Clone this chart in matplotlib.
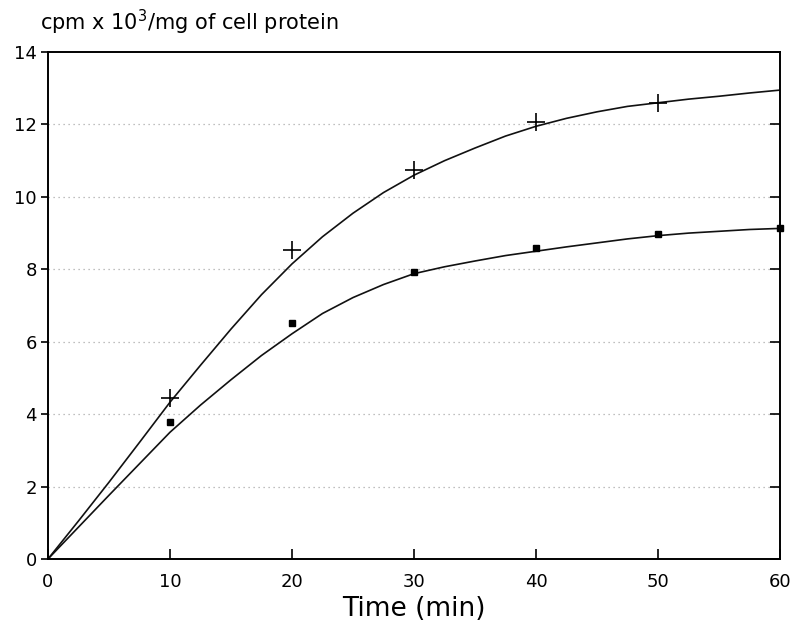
import matplotlib
matplotlib.use("Agg")
import matplotlib.pyplot as plt

# fitted curves
curve_x = [0, 2.5, 5, 7.5, 10, 12.5, 15, 17.5, 20, 22.5, 25, 27.5, 30,
           32.5, 35, 37.5, 40, 42.5, 45, 47.5, 50, 52.5, 55, 57.5, 60]
curve_plus = [0, 1.05, 2.12, 3.22, 4.33, 5.35, 6.35, 7.3, 8.15, 8.9, 9.55, 10.12, 10.6,
              11.0, 11.35, 11.68, 11.95, 12.17, 12.35, 12.5, 12.6, 12.7, 12.78, 12.87, 12.95]
curve_square = [0, 0.88, 1.76, 2.63, 3.5, 4.25, 4.95, 5.62, 6.22, 6.78, 7.22, 7.58, 7.88,
                8.07, 8.23, 8.38, 8.5, 8.62, 8.73, 8.84, 8.93, 9.0, 9.05, 9.1, 9.13]

# measured points
plus_x = [10, 20, 30, 40, 50]
plus_y = [4.45, 8.53, 10.74, 12.08, 12.6]
square_x = [10, 20, 30, 40, 50, 60]
square_y = [3.78, 6.53, 7.93, 8.58, 8.97, 9.15]

x_ticks = [0, 10, 20, 30, 40, 50, 60]
y_ticks = [0, 2, 4, 6, 8, 10, 12, 14]
grid_levels = [2, 4, 6, 8, 10, 12]

fig = plt.figure(figsize=(7.97, 6.35), dpi=100)
ax = fig.add_axes([0.0602, 0.1197, 0.9185, 0.7983])

for g in grid_levels:
    ax.axhline(g, color='#aaaaaa', lw=0.9, ls=(0, (1, 3)), zorder=0)

ax.plot(curve_x, curve_plus, color='#111111', lw=1.2)
ax.plot(curve_x, curve_square, color='#111111', lw=1.2)
ax.plot(plus_x, plus_y, ls='none', marker='+', ms=13, mew=1.2, color='black', clip_on=False)
ax.plot(square_x, square_y, ls='none', marker='s', ms=4.5, color='black', clip_on=False)

ax.set_xlim(0, 60)
ax.set_ylim(0, 14)
ax.set_xticks(x_ticks)
ax.set_yticks(y_ticks)
ax.tick_params(axis='x', direction='in', length=7, width=1.2, labelsize=13, pad=10, top=False)
ax.tick_params(axis='y', direction='out', length=5, width=1.2, labelsize=13, pad=3)
for s in ax.spines.values():
    s.set_linewidth(1.4)

# inward ticks on the right spine
ax2 = ax.twinx()
ax2.set_ylim(ax.get_ylim())
ax2.set_yticks(y_ticks)
ax2.tick_params(axis='y', direction='in', length=7, width=1.2, labelright=False)
for s in ax2.spines.values():
    s.set_visible(False)

ax.set_xlabel('Time (min)', fontsize=19, labelpad=4)

fig.text(0.05, 0.952, r'cpm x 10$^{3}$/mg of cell protein', fontsize=15, va='baseline')

plt.savefig('out.png', dpi=100)
plt.close()
